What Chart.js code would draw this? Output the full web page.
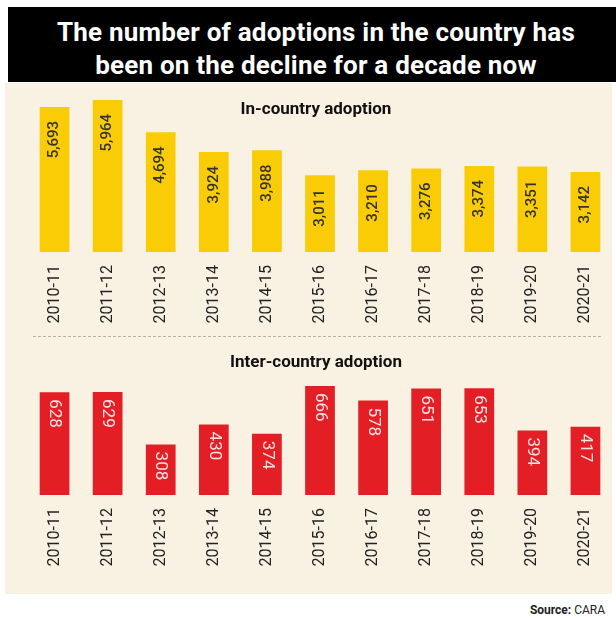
<!DOCTYPE html>
<html>
<head>
<meta charset="utf-8">
<script src="https://cdn.jsdelivr.net/npm/chart.js@4.4.1/dist/chart.umd.min.js"></script>
<style>
    body { margin: 0; width: 616px; height: 618px; background: #fff; position: relative; overflow: hidden; font-family: Roboto, "Noto Sans", sans-serif; }
    .headline { position: absolute; left: 8px; top: 7px; width: 608px; height: 75px; background: #000; color: #fff; }
    .headline div { position: absolute; left: 0; width: 616px; text-align: center; font-weight: 700; font-size: 26px; letter-spacing: 0.2px; line-height: 30px; }
    .panel { position: absolute; left: 5px; top: 83px; width: 607px; height: 511px; background: #f9f2e3; }
    .sub { position: absolute; left: 116px; width: 400px; text-align: center; font-weight: 700; font-size: 17px; color: #111; line-height: 20px; }
    .divider { position: absolute; left: 33px; top: 336px; width: 568px; border-top: 1.5px dashed #b8b2a6; }
    canvas { position: absolute; left: 0; }
    .source { position: absolute; right: 11px; top: 603px; font-size: 12px; color: #222; }
</style>
</head>
<body>
<div class="headline">
    <div style="top: 10px;">The number of adoptions in the country has</div>
    <div style="top: 43px;">been on the decline for a decade now</div>
</div>
<div class="panel"></div>
<div class="divider"></div>
<canvas id="inCountryChart" width="616" height="240" style="top: 88px;"></canvas>
<canvas id="interCountryChart" width="616" height="201" style="top: 370px;"></canvas>
<div class="sub" style="top: 98px;">In-country adoption</div>
<div class="sub" style="top: 351px;">Inter-country adoption</div>
<div class="source"><b>Source:</b> CARA</div>

<script>
const years = ['2010-11', '2011-12', '2012-13', '2013-14', '2014-15', '2015-16',
               '2016-17', '2017-18', '2018-19', '2019-20', '2020-21'];
const inCountry = [5693, 5964, 4694, 3924, 3988, 3011, 3210, 3276, 3374, 3351, 3142];
const interCountry = [628, 629, 308, 430, 374, 666, 578, 651, 653, 394, 417];

// value labels written inside the bars, turned on their side
const barLabels = {
    id: 'barLabels',
    afterDatasetsDraw(chart, args, opts) {
        const ctx = chart.ctx;
        const data = chart.data.datasets[0].data;
        ctx.save();
        ctx.font = opts.font;
        ctx.fillStyle = opts.color;
        ctx.textBaseline = 'middle';
        chart.getDatasetMeta(0).data.forEach((bar, i) => {
            ctx.save();
            ctx.translate(bar.x, bar.y + opts.offset);
            if (opts.downward) {
                ctx.rotate(Math.PI / 2);
                ctx.textAlign = 'left';
            } else {
                ctx.rotate(-Math.PI / 2);
                ctx.textAlign = 'right';
            }
            ctx.fillText(data[i].toLocaleString('en-US'), 0, 0);
            ctx.restore();
        });
        ctx.restore();
    }
};

function makeChart(id, values, color, padTop, labelOpts) {
    return new Chart(document.getElementById(id), {
        type: 'bar',
        data: {
            labels: years,
            datasets: [{
                data: values,
                backgroundColor: color,
                borderWidth: 0,
                categoryPercentage: 1,
                barPercentage: 0.56
            }]
        },
        options: {
            responsive: false,
            animation: false,
            layout: { padding: { top: padTop, left: 28, right: 4, bottom: 0 } },
            plugins: {
                legend: { display: false },
                tooltip: { enabled: false },
                barLabels: labelOpts
            },
            scales: {
                x: {
                    grid: { display: false },
                    border: { display: false },
                    afterFit: (scale) => { scale.height = 76; },
                    ticks: {
                        autoSkip: false,
                        minRotation: 90,
                        maxRotation: 90,
                        padding: 5,
                        color: '#222',
                        font: { family: 'Roboto', size: 16 }
                    }
                },
                y: {
                    display: false,
                    min: 0,
                    max: Math.max(...values)
                }
            }
        },
        plugins: [barLabels]
    });
}

makeChart('inCountryChart', inCountry, '#f9cc06', 12,
    { font: '500 15px Roboto', color: '#333', offset: 14, downward: false });
makeChart('interCountryChart', interCountry, '#e31e25', 16,
    { font: '17px Roboto', color: '#fbe3e3', offset: 7, downward: true });
</script>
</body>
</html>
